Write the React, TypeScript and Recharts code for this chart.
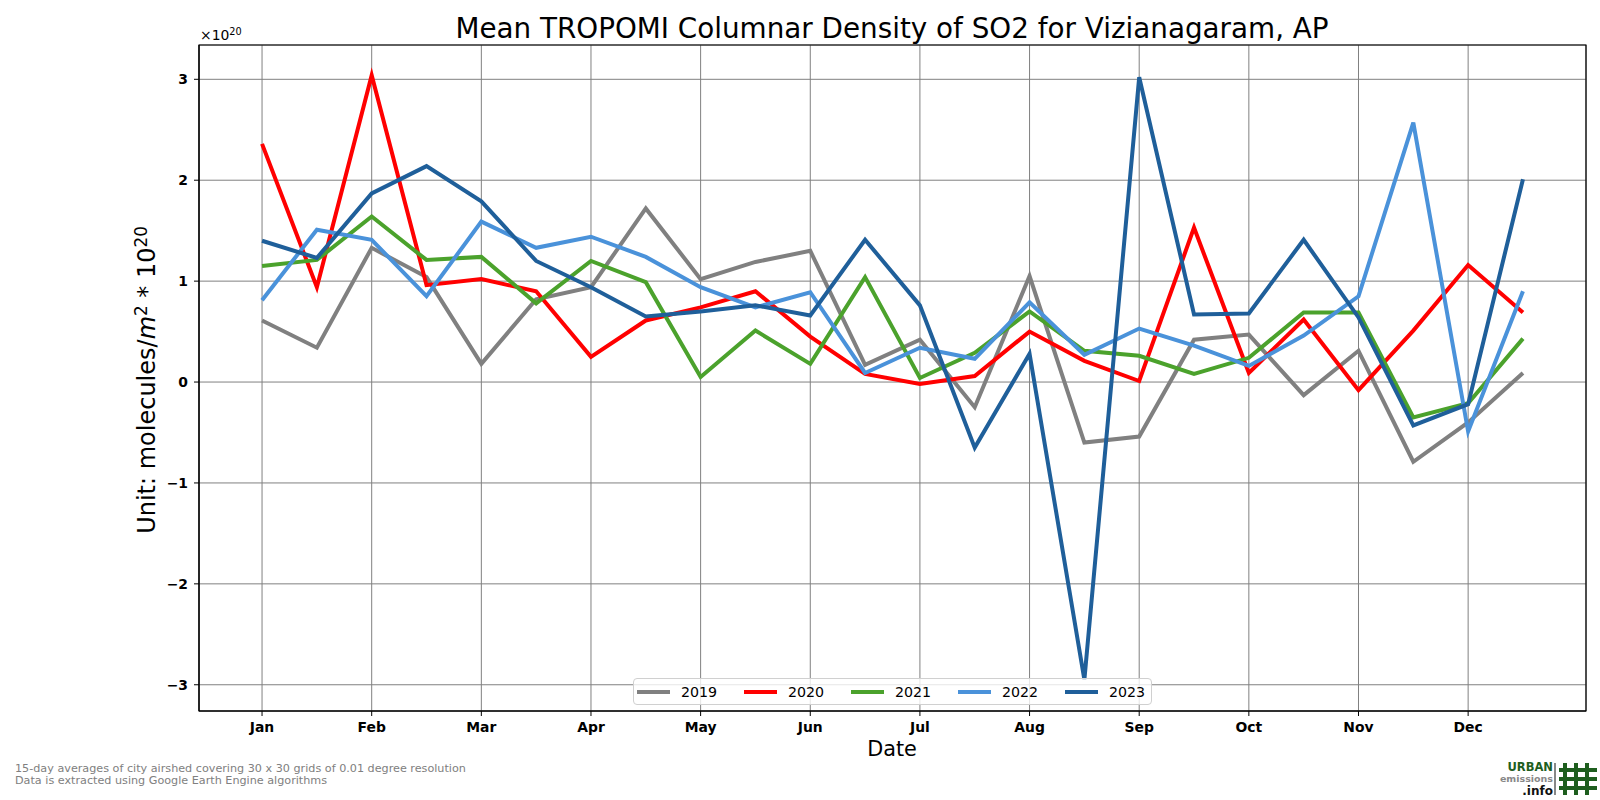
import { LineChart, Line, XAxis, YAxis, CartesianGrid, ReferenceArea } from 'recharts';

const months = ['Jan', 'Feb', 'Mar', 'Apr', 'May', 'Jun', 'Jul', 'Aug', 'Sep', 'Oct', 'Nov', 'Dec'];
const yTicks = [-3, -2, -1, 0, 1, 2, 3];

// 15-day means, x 10^20 molecules/m2 (two points per month)
const s2019 = [0.61, 0.34, 1.33, 1.04, 0.18, 0.82, 0.94, 1.72, 1.02, 1.19, 1.30, 0.17, 0.42, -0.25, 1.05, -0.60, -0.54, 0.42, 0.47, -0.13, 0.31, -0.79, -0.40, 0.09];
const s2020 = [2.36, 0.94, 3.04, 0.96, 1.02, 0.90, 0.25, 0.61, 0.74, 0.90, 0.45, 0.08, -0.02, 0.06, 0.50, 0.21, 0.01, 1.53, 0.09, 0.62, -0.08, 0.51, 1.16, 0.69];
const s2021 = [1.15, 1.21, 1.64, 1.21, 1.24, 0.78, 1.20, 0.99, 0.05, 0.51, 0.18, 1.04, 0.04, 0.29, 0.70, 0.31, 0.26, 0.08, 0.24, 0.69, 0.69, -0.35, -0.21, 0.43];
const s2022 = [0.81, 1.51, 1.41, 0.85, 1.59, 1.33, 1.44, 1.24, 0.94, 0.74, 0.89, 0.09, 0.34, 0.23, 0.79, 0.27, 0.53, 0.36, 0.16, 0.46, 0.85, 2.57, -0.49, 0.90];
const s2023 = [1.40, 1.23, 1.87, 2.14, 1.79, 1.20, 0.94, 0.65, 0.70, 0.76, 0.66, 1.41, 0.76, -0.65, 0.28, -2.95, 3.02, 0.67, 0.68, 1.41, 0.64, -0.43, -0.22, 2.01];

const series = [
  { key: '2019', values: s2019, color: '#808080' },
  { key: '2020', values: s2020, color: '#ff0000' },
  { key: '2021', values: s2021, color: '#4ba22c' },
  { key: '2022', values: s2022, color: '#4a92da' },
  { key: '2023', values: s2023, color: '#1f5f9a' },
];

const data = s2019.map((_, i) => {
  const row: Record<string, number> = { i };
  series.forEach((s) => { row[s.key] = s.values[i]; });
  return row;
});

const X_DOMAIN = [-1.15, 24.15];
const Y_DOMAIN = [-3.26, 3.34];
const font = '"DejaVu Sans", sans-serif';
const tickStyle = { fontSize: 13.9, fontWeight: 700, fill: '#000', fontFamily: font };

function Sup({ children }: { children: any }) {
  return <span style={{ fontSize: '0.7em', position: 'relative', top: '-0.5em' }}>{children}</span>;
}

const logoLine = { position: 'absolute' as const, left: 1470, width: 83, textAlign: 'right' as const, fontWeight: 700, whiteSpace: 'nowrap' as const };

export default function App() {
  return (
    <div style={{ position: 'absolute', left: 0, top: 0, width: 1600, height: 800, background: '#fff', fontFamily: font }}>
      <LineChart width={1600} height={800} data={data} margin={{ top: 45, right: 14, bottom: 59, left: 139 }}>
        <CartesianGrid stroke="#808080" strokeWidth={1} />
        <XAxis
          dataKey="i"
          type="number"
          domain={X_DOMAIN}
          allowDataOverflow
          ticks={months.map((_, m) => m * 2)}
          tickFormatter={(v) => months[v / 2]}
          height={30}
          tick={tickStyle}
          tickSize={5}
          tickMargin={6}
          tickLine={{ stroke: '#000' }}
          axisLine={{ stroke: '#000' }}
          interval={0}
        />
        <YAxis
          type="number"
          domain={Y_DOMAIN}
          allowDataOverflow
          ticks={yTicks}
          tickFormatter={(v) => (v < 0 ? '\u2212' + Math.abs(v) : String(v))}
          width={60}
          tick={tickStyle}
          tickSize={5}
          tickMargin={6}
          tickLine={{ stroke: '#000' }}
          axisLine={{ stroke: '#000' }}
          interval={0}
        />
        <ReferenceArea
          x1={X_DOMAIN[0]}
          x2={X_DOMAIN[1]}
          y1={Y_DOMAIN[0]}
          y2={Y_DOMAIN[1]}
          fill="none"
          fillOpacity={0}
          stroke="#000"
          strokeWidth={1.2}
          ifOverflow="visible"
        />
        {series.map((s) => (
          <Line
            key={s.key}
            dataKey={s.key}
            stroke={s.color}
            strokeWidth={4}
            dot={false}
            activeDot={false}
            isAnimationActive={false}
            strokeLinejoin="miter"
          />
        ))}
      </LineChart>

      <div style={{ position: 'absolute', left: 892, top: 28, transform: 'translate(-50%,-50%)', fontSize: 27.8, whiteSpace: 'nowrap' }}>
        Mean TROPOMI Columnar Density of SO2 for Vizianagaram, AP
      </div>

      <div style={{ position: 'absolute', left: 200, top: 27, fontSize: 13.9, whiteSpace: 'nowrap' }}>
        ×10<Sup>20</Sup>
      </div>

      <div style={{ position: 'absolute', left: 147, top: 380, transform: 'translate(-50%,-50%) rotate(-90deg)', fontSize: 24, whiteSpace: 'nowrap' }}>
        Unit: molecules/<i>m</i><Sup>2</Sup> * 10<Sup>20</Sup>
      </div>

      <div style={{ position: 'absolute', left: 892, top: 749, transform: 'translate(-50%,-50%)', fontSize: 20.8, whiteSpace: 'nowrap' }}>
        Date
      </div>

      <div style={{ position: 'absolute', left: 633, top: 678, width: 517, height: 25, border: '1px solid #d0d0d0', borderRadius: 4, background: 'rgba(255,255,255,0.8)', boxSizing: 'content-box' }}>
        {series.map((s, k) => (
          <div key={s.key} style={{ position: 'absolute', left: 3 + k * 107, top: 0, height: 25, display: 'flex', alignItems: 'center' }}>
            <div style={{ width: 33, height: 4, background: s.color }} />
            <span style={{ marginLeft: 11, fontSize: 14.2 }}>{s.key}</span>
          </div>
        ))}
      </div>

      <div style={{ position: 'absolute', left: 15, top: 763, fontSize: 11.2, lineHeight: '12px', color: '#808080', whiteSpace: 'nowrap' }}>
        <div>15-day averages of city airshed covering 30 x 30 grids of 0.01 degree resolution</div>
        <div>Data is extracted using Google Earth Engine algorithms</div>
      </div>

      <div style={{ ...logoLine, top: 761, height: 12, lineHeight: '12px', fontSize: 11.5, color: '#1e5e1e' }}>URBAN</div>
      <div style={{ ...logoLine, top: 774, height: 10, lineHeight: '10px', fontSize: 9.5, color: '#888' }}>emissions</div>
      <div style={{ ...logoLine, top: 785, height: 12, lineHeight: '12px', fontSize: 12, color: '#111' }}>.info</div>
      <div style={{ position: 'absolute', left: 1554, top: 763, width: 2, height: 32, background: '#888' }} />
      {[0, 1, 2].map((k) => (
        <div key={'v' + k} style={{ position: 'absolute', left: 1563 + k * 11, top: 763, width: 4, height: 32, background: '#1e5e1e' }} />
      ))}
      {[0, 1, 2].map((k) => (
        <div key={'h' + k} style={{ position: 'absolute', left: 1559, top: 768 + k * 9, width: 38, height: 4, background: '#1e5e1e' }} />
      ))}
    </div>
  );
}
